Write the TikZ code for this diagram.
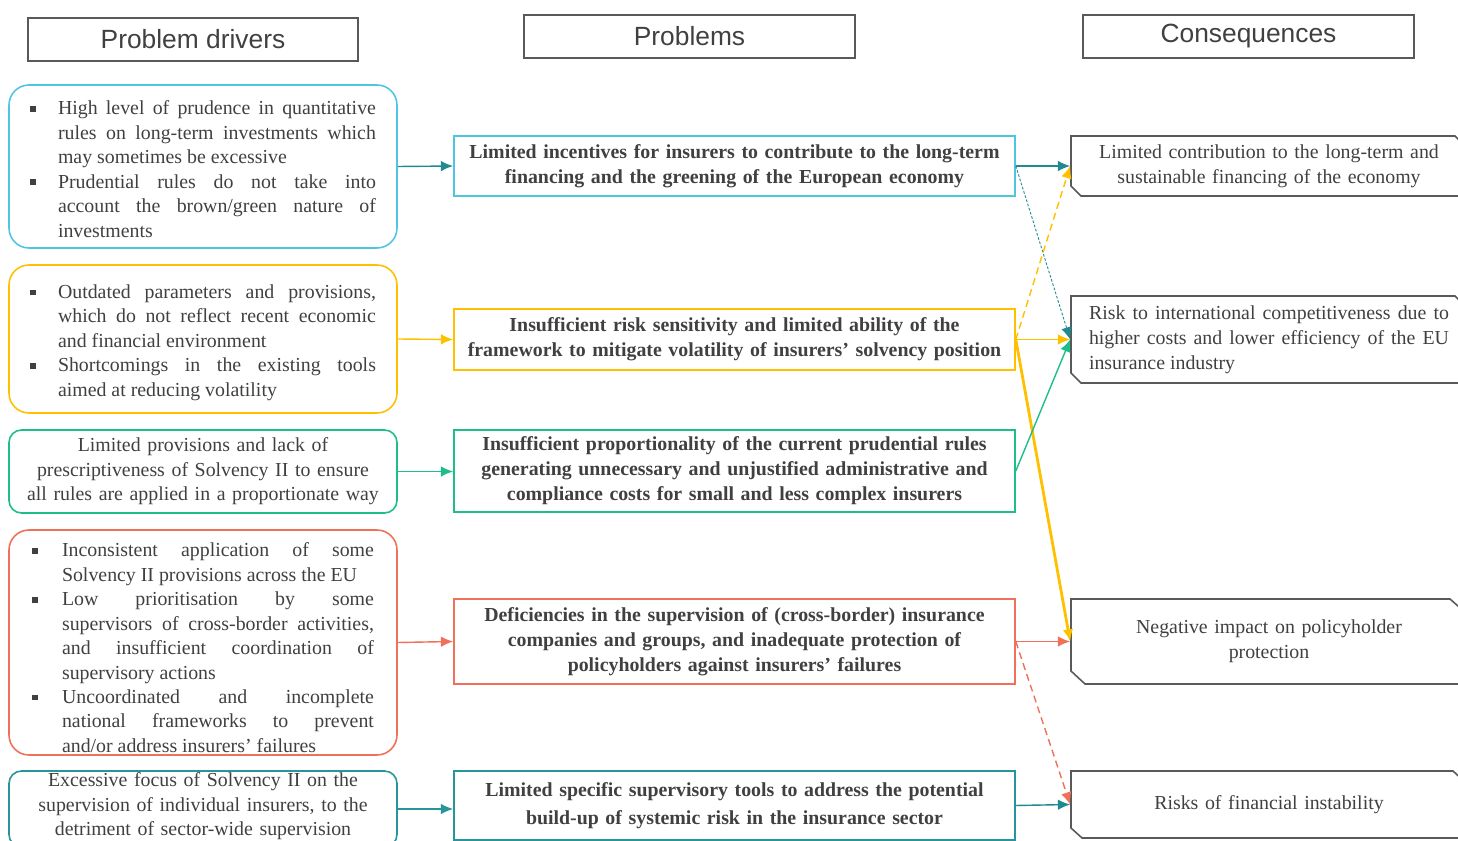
\documentclass[tikz,border=0pt]{standalone}
\usepackage{fontspec}
\setmainfont{Liberation Serif}
\newfontfamily\hdrfont{Liberation Sans}
\usetikzlibrary{calc,positioning,arrows,arrows.meta,fit}
\definecolor{txtgray}{HTML}{404040}
\definecolor{boxgray}{HTML}{595959}
\definecolor{dcyan}{HTML}{4EC6E2}
\definecolor{dyellow}{HTML}{FFC000}
\definecolor{dgreen}{HTML}{1EBE8C}
\definecolor{dred}{HTML}{F0705A}
\definecolor{dteal}{HTML}{26969C}
\definecolor{ateal}{HTML}{1F8A8F}
\newlength{\bulletgap}
\setlength{\bulletgap}{0.56cm}
\newcommand{\drvitem}{\par\noindent\hangindent=\bulletgap\hangafter=1%
  \makebox[\bulletgap][l]{\rule[1.8pt]{3.2pt}{3.2pt}}}
\makeatletter
\tikzset{
  fitting node/.style={
    inner sep=0pt,
    fill=none,
    draw=none,
    reset transform,
    fit={(\pgf@pathminx,\pgf@pathminy) (\pgf@pathmaxx,\pgf@pathmaxy)}
  },
  reset transform/.code={\pgftransformreset},
  hdr/.style={draw=boxgray, line width=1pt},
  hdr label/.style={font=\hdrfont\fontsize{15}{18}\selectfont, text=txtgray},
  drv/.style={rounded corners=0.4cm, line width=0.9pt},
  drv label/.style={text width=6.92cm, inner sep=0pt, align=justify, text=txtgray,
    font=\fontsize{11.3}{13.9}\selectfont},
  drv centre/.style={text width=7.3cm, inner sep=0pt, align=center, text=txtgray,
    font=\fontsize{11.3}{13.9}\selectfont},
  prb/.style={line width=0.9pt},
  prb label/.style={text width=11.1cm, inner sep=0pt, align=center, text=txtgray,
    font=\bfseries\fontsize{11.3}{14.2}\selectfont},
  csq/.style={draw=boxgray, line width=0.9pt},
  csq label/.style={text width=7.3cm, inner sep=0pt, align=center, text=txtgray,
    font=\fontsize{11.3}{14.2}\selectfont},
  link/.style={-{Latex[length=7pt,width=6pt]}, line width=0.8pt}
}
\makeatother

\begin{document}
\begin{tikzpicture}[x=0.02cm,y=-0.02cm]
  \useasboundingbox (0,0) rectangle (1458,841);

  % column headers
  \draw[hdr] (28,18) rectangle (358,61) node[fitting node] (drivers_hdr) {};
  \node (drivers_hdr_label) [hdr label] at (drivers_hdr) {Problem drivers};
  \draw[hdr] (524,15) rectangle (855,58) node[fitting node] (problems_hdr) {};
  \node (problems_hdr_label) [hdr label] at (problems_hdr) {Problems};
  \draw[hdr] (1083,15) rectangle (1414,58) node[fitting node] (conseq_hdr) {};
  \node (conseq_hdr_label) [hdr label] at (conseq_hdr) {Consequences};

  % problem drivers
  \draw[drv, dcyan] (9,85) rectangle (397,248) node[fitting node] (drv1) {};
  \node (drv1_label) [drv label] at ([yshift=1.5pt]drv1.center) {\drvitem High level of prudence in quantitative\linebreak rules on long-term investments which\linebreak may sometimes be excessive
    \drvitem Prudential rules do not take into\linebreak account the brown/green nature of\linebreak investments\par};

  \draw[drv, dyellow] (9,265) rectangle (397,413) node[fitting node] (drv2) {};
  \node (drv2_label) [drv label] at ([yshift=1pt]drv2.center) {\drvitem Outdated parameters and provisions,\linebreak which do not reflect recent economic\linebreak and financial environment
    \drvitem Shortcomings in the existing tools\linebreak aimed at reducing volatility\par};

  \draw[drv, dgreen, rounded corners=0.25cm] (9,430) rectangle (397,513) node[fitting node] (drv3) {};
  \node (drv3_label) [drv centre] at (drv3) {Limited provisions and lack of\\ prescriptiveness of Solvency II to ensure\\ all rules are applied in a proportionate way};

  \draw[drv, dred] (9,530) rectangle (397,755) node[fitting node] (drv4) {};
  \node (drv4_label) [drv label, text width=6.84cm] at (drv4) {\setlength{\bulletgap}{0.6cm}%
    \drvitem Inconsistent application of some\linebreak Solvency II provisions across the EU
    \drvitem Low prioritisation by some\linebreak supervisors of cross-border activities,\linebreak and insufficient coordination of\linebreak supervisory actions
    \drvitem Uncoordinated and incomplete\linebreak national frameworks to prevent\linebreak and/or address insurers’ failures\par};

  \draw[drv, dteal, rounded corners=0.25cm] (9,771) rectangle (397,847) node[fitting node] (drv5) {};
  \node (drv5_label) [drv centre] at ([yshift=1.5pt]drv5.center) {Excessive focus of Solvency II on the\\ supervision of individual insurers, to the\\ detriment of sector-wide supervision};

  % problems
  \draw[prb, dcyan] (454,136) rectangle (1015,196) node[fitting node] (prb1) {};
  \node (prb1_label) [prb label] at (prb1) {Limited incentives for insurers to contribute to the long-term\\ financing and the greening of the European economy};

  \draw[prb, dyellow] (454,309) rectangle (1015,370) node[fitting node] (prb2) {};
  \node (prb2_label) [prb label] at (prb2) {Insufficient risk sensitivity and limited ability of the\\ framework to mitigate volatility of insurers’ solvency position};

  \draw[prb, dgreen] (454,430) rectangle (1015,512) node[fitting node] (prb3) {};
  \node (prb3_label) [prb label] at (prb3) {Insufficient proportionality of the current prudential rules\\ generating unnecessary and unjustified administrative and\\ compliance costs for small and less complex insurers};

  \draw[prb, dred] (454,599) rectangle (1015,684) node[fitting node] (prb4) {};
  \node (prb4_label) [prb label] at (prb4) {Deficiencies in the supervision of (cross-border) insurance\\ companies and groups, and inadequate protection of\\ policyholders against insurers’ failures};

  \draw[prb, dteal] (454,771) rectangle (1015,840) node[fitting node] (prb5) {};
  \node (prb5_label) [prb label, font=\bfseries\fontsize{11.3}{16}\selectfont] at (prb5) {Limited specific supervisory tools to address the potential\\ build-up of systemic risk in the insurance sector};

  % consequences
  \draw[csq] (1071,136) -- (1455,136) -- (1467,148) -- (1467,196) -- (1081,196) -- (1071,186) -- cycle node[fitting node] (csq1) {};
  \node (csq1_label) [csq label] at (csq1) {Limited contribution to the long-term and\\ sustainable financing of the economy};

  \draw[csq] (1071,296) -- (1455,296) -- (1467,308) -- (1467,383) -- (1081,383) -- (1071,373) -- cycle node[fitting node] (csq2) {};
  \node (csq2_label) [csq label, text width=7.2cm, align=justify] at (csq2) {Risk to international competitiveness due to\linebreak higher costs and lower efficiency of the EU\linebreak insurance industry\par};

  \draw[csq] (1071,599) -- (1450,599) -- (1467,614) -- (1467,684) -- (1085,684) -- (1071,671) -- cycle node[fitting node] (csq3) {};
  \node (csq3_label) [csq label] at (csq3) {Negative impact on policyholder\\ protection};

  \draw[csq] (1071,771) -- (1453,771) -- (1467,784) -- (1467,838) -- (1082,838) -- (1071,828) -- cycle node[fitting node] (csq4) {};
  \node (csq4_label) [csq label] at (csq4) {Risks of financial instability};

  % drivers to problems
  \draw[link, ateal] (drv1.east) -- (prb1.west);
  \draw[link, dyellow] (drv2.east) -- (prb2.west);
  \draw[link, dgreen] (drv3.east) -- (drv3.east -| prb3.west);
  \draw[link, dred] (drv4.east) -- (prb4.west);
  \draw[link, dteal] (drv5.east) -- (drv5.east -| prb5.west);

  % problems to consequences
  \draw[link, ateal] (prb1.east) -- (csq1.west);
  \draw[link, ateal, line width=0.5pt, dash pattern=on 1.5pt off 1pt] (prb1.east) -- (csq2.west);
  \draw[link, dyellow, dash pattern=on 4pt off 2.5pt] (prb2.east) -- (csq1.west);
  \draw[link, dyellow] (prb2.east) -- (csq2.west);
  \draw[link, dyellow, line width=1.6pt] (prb2.east) -- (csq3.west);
  \draw[link, dgreen] (prb3.east) -- (csq2.west);
  \draw[link, dred] (prb4.east) -- (csq3.west);
  \draw[link, dred, dash pattern=on 4pt off 2.5pt] (prb4.east) -- (csq4.west);
  \draw[link, ateal] (prb5.east) -- (csq4.west);
\end{tikzpicture}
\end{document}
